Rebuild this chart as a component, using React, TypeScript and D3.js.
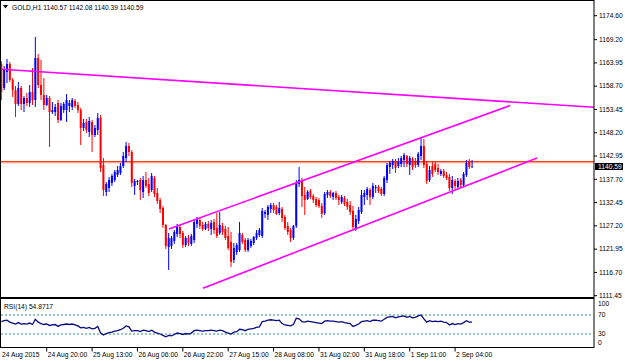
import React from "react";
import * as d3 from "d3";

const W = 625;
const H = 361;

// Hourly OHLC candles, GOLD H1 (24 Aug 2015 04:00 .. 2 Sep 2015)
const OPEN = [
  1163.71, 1158.30, 1161.90, 1163.71, 1160.10, 1157.84, 1154.69, 1158.30, 1154.69, 1156.04,
  1154.91, 1157.39, 1155.59, 1165.06, 1158.97, 1156.72, 1154.46, 1156.04, 1152.88, 1152.88,
  1154.91, 1151.08, 1153.33, 1153.33, 1154.24, 1154.01, 1155.36, 1154.46, 1153.33, 1149.28,
  1150.63, 1148.37, 1150.63, 1147.70, 1148.82, 1151.53, 1140.93, 1134.84, 1135.75, 1136.87,
  1137.55, 1138.68, 1139.13, 1140.71, 1142.51, 1145.22, 1143.86, 1136.20, 1137.10, 1137.55,
  1134.84, 1137.55, 1136.65, 1135.29, 1138.00, 1134.62, 1133.04, 1131.24, 1127.40, 1122.44,
  1122.67, 1123.79, 1125.37, 1126.95, 1125.60, 1122.89, 1124.47, 1123.12, 1124.02, 1127.63,
  1128.53, 1127.40, 1126.50, 1127.63, 1126.50, 1128.08, 1126.73, 1125.60, 1127.18, 1126.50,
  1124.92, 1123.57, 1119.51, 1121.31, 1121.76, 1125.15, 1124.02, 1121.76, 1122.67, 1123.34,
  1124.47, 1125.15, 1124.92, 1129.88, 1129.66, 1131.01, 1131.91, 1131.46, 1130.11, 1131.01,
  1129.21, 1127.18, 1126.27, 1124.47, 1127.18, 1136.65, 1137.32, 1134.17, 1133.27, 1135.07,
  1133.94, 1133.27, 1133.04, 1131.69, 1130.11, 1134.17, 1134.84, 1133.72, 1134.62, 1133.72,
  1132.59, 1133.49, 1132.59, 1131.91, 1130.56, 1126.73, 1128.30, 1130.33, 1133.72, 1134.17,
  1135.29, 1133.72, 1135.75, 1135.97, 1135.52, 1134.39, 1137.55, 1140.48, 1140.93, 1141.83,
  1140.71, 1141.16, 1142.06, 1142.96, 1140.93, 1142.29, 1141.83, 1140.93, 1142.96, 1145.22,
  1141.16, 1137.55, 1140.71, 1141.16, 1140.26, 1138.90, 1139.58, 1138.68, 1138.23, 1135.75,
  1137.32, 1135.97, 1137.55, 1136.42, 1138.68, 1141.83, 1140.57,
];
const HIGH = [
  1164.38, 1163.26, 1164.84, 1164.16, 1160.55, 1158.75, 1159.65, 1158.75, 1156.49, 1157.17,
  1158.97, 1162.81, 1169.80, 1165.96, 1164.61, 1160.55, 1156.72, 1156.49, 1155.14, 1154.69,
  1155.59, 1154.91, 1155.14, 1156.94, 1155.59, 1156.04, 1155.82, 1155.14, 1153.79, 1151.31,
  1151.31, 1151.76, 1151.08, 1149.95, 1152.66, 1152.21, 1142.51, 1137.10, 1138.23, 1138.90,
  1139.80, 1140.71, 1141.38, 1143.86, 1146.12, 1145.89, 1144.31, 1137.78, 1137.55, 1138.00,
  1138.45, 1139.35, 1138.00, 1139.13, 1138.45, 1135.75, 1133.49, 1131.69, 1127.63, 1125.60,
  1124.92, 1126.27, 1127.63, 1127.40, 1126.05, 1124.92, 1125.15, 1125.37, 1128.76, 1129.21,
  1128.98, 1128.08, 1128.08, 1128.30, 1128.53, 1128.76, 1130.11, 1130.33, 1127.85, 1127.18,
  1126.95, 1125.82, 1123.34, 1123.34, 1128.08, 1125.60, 1124.47, 1124.47, 1124.25, 1124.92,
  1126.27, 1126.73, 1131.24, 1130.78, 1131.91, 1132.36, 1132.36, 1131.91, 1132.59, 1131.46,
  1129.66, 1128.08, 1126.73, 1127.40, 1137.55, 1140.48, 1138.00, 1135.97, 1135.29, 1135.52,
  1134.39, 1133.72, 1133.49, 1132.36, 1134.84, 1135.29, 1135.29, 1134.84, 1135.07, 1134.17,
  1134.17, 1133.94, 1133.27, 1132.81, 1131.69, 1129.66, 1131.46, 1135.29, 1135.29, 1135.97,
  1135.75, 1136.87, 1136.42, 1136.42, 1135.97, 1138.45, 1141.38, 1141.83, 1142.29, 1142.29,
  1142.51, 1142.96, 1143.64, 1143.19, 1142.96, 1142.74, 1142.51, 1143.86, 1147.25, 1146.80,
  1141.83, 1140.71, 1141.61, 1141.83, 1141.16, 1140.03, 1140.03, 1139.35, 1138.90, 1138.45,
  1137.78, 1138.00, 1138.00, 1139.35, 1142.06, 1142.29, 1142.08,
];
const LOW = [
  1155.59, 1157.84, 1159.42, 1159.65, 1156.27, 1151.76, 1154.24, 1153.33, 1152.88, 1154.24,
  1154.01, 1154.46, 1154.01, 1158.30, 1155.59, 1153.33, 1154.24, 1144.99, 1152.43, 1151.98,
  1150.40, 1150.85, 1152.66, 1150.63, 1152.88, 1153.33, 1153.79, 1152.66, 1145.44, 1148.60,
  1148.15, 1147.25, 1143.86, 1147.25, 1147.70, 1139.35, 1133.94, 1133.94, 1134.84, 1136.20,
  1137.10, 1138.23, 1138.68, 1140.26, 1141.61, 1142.96, 1135.97, 1134.17, 1136.42, 1133.04,
  1133.49, 1135.75, 1133.94, 1134.84, 1133.72, 1132.14, 1130.11, 1126.73, 1121.99, 1117.25,
  1121.99, 1123.12, 1124.70, 1124.47, 1122.22, 1122.44, 1122.67, 1122.67, 1123.34, 1126.73,
  1126.50, 1126.05, 1126.27, 1126.05, 1125.15, 1125.37, 1124.47, 1125.15, 1125.15, 1124.02,
  1121.76, 1117.93, 1118.83, 1120.64, 1121.31, 1123.12, 1121.31, 1121.31, 1122.22, 1122.89,
  1124.02, 1124.70, 1124.47, 1128.98, 1128.53, 1130.11, 1130.11, 1129.66, 1129.66, 1128.08,
  1126.27, 1125.15, 1123.57, 1124.02, 1126.73, 1135.97, 1131.46, 1129.66, 1133.04, 1133.27,
  1132.36, 1131.46, 1131.24, 1128.98, 1129.66, 1133.49, 1133.49, 1133.04, 1133.04, 1131.91,
  1132.14, 1131.69, 1130.78, 1129.66, 1126.50, 1126.05, 1127.63, 1129.88, 1131.91, 1133.04,
  1131.91, 1133.27, 1134.62, 1134.62, 1133.94, 1133.94, 1136.87, 1138.90, 1140.03, 1139.13,
  1140.26, 1140.48, 1140.48, 1140.48, 1138.68, 1139.80, 1140.26, 1140.48, 1142.06, 1140.26,
  1136.65, 1137.10, 1138.23, 1139.35, 1138.68, 1138.45, 1138.00, 1137.55, 1135.07, 1134.39,
  1135.52, 1135.75, 1135.75, 1135.97, 1138.23, 1140.03, 1140.39,
];
const CLOSE = [
  1157.39, 1162.35, 1163.71, 1160.10, 1157.84, 1154.69, 1158.30, 1154.69, 1156.04, 1154.91,
  1157.39, 1155.59, 1165.06, 1158.97, 1156.72, 1154.46, 1156.04, 1152.88, 1153.33, 1154.01,
  1151.08, 1154.24, 1154.69, 1155.59, 1154.91, 1155.59, 1154.24, 1153.33, 1149.28, 1150.40,
  1148.82, 1150.85, 1147.70, 1149.28, 1151.53, 1140.26, 1135.29, 1136.65, 1137.55, 1138.45,
  1139.35, 1139.80, 1140.71, 1142.96, 1145.22, 1143.86, 1136.87, 1137.32, 1137.32, 1135.29,
  1137.55, 1136.20, 1134.62, 1138.45, 1134.39, 1132.81, 1131.01, 1127.40, 1122.67, 1124.47,
  1124.47, 1125.82, 1127.18, 1125.37, 1122.89, 1124.47, 1123.34, 1124.92, 1128.08, 1128.76,
  1127.18, 1126.50, 1127.63, 1126.73, 1127.85, 1126.27, 1124.92, 1127.40, 1125.82, 1124.47,
  1122.22, 1119.06, 1122.22, 1122.89, 1125.60, 1123.57, 1121.76, 1124.02, 1123.79, 1124.70,
  1125.60, 1126.27, 1130.56, 1130.33, 1131.46, 1131.91, 1130.78, 1129.88, 1131.24, 1128.98,
  1126.73, 1125.82, 1124.47, 1127.18, 1136.87, 1137.55, 1133.94, 1133.04, 1134.84, 1133.72,
  1133.04, 1131.91, 1131.69, 1129.88, 1134.39, 1134.84, 1133.94, 1134.62, 1133.49, 1133.04,
  1133.72, 1132.14, 1131.46, 1130.33, 1126.95, 1128.76, 1130.78, 1134.17, 1134.62, 1135.52,
  1133.72, 1136.20, 1135.97, 1135.07, 1134.39, 1138.00, 1140.93, 1141.38, 1141.83, 1140.26,
  1141.61, 1142.51, 1143.19, 1141.16, 1142.51, 1140.48, 1140.93, 1143.41, 1145.22, 1140.93,
  1137.32, 1139.80, 1138.90, 1139.80, 1139.35, 1139.58, 1138.45, 1138.00, 1135.75, 1137.55,
  1136.20, 1137.32, 1136.42, 1138.90, 1141.38, 1140.48, 1140.59,
];

// RSI(14), one value per bar
const RSI = [
  56, 58, 59, 55, 53, 51, 54, 51, 52, 51,
  53, 50, 61, 55, 52, 50, 51, 48, 49, 50,
  46, 49, 50, 51, 50, 51, 49, 47, 43, 44,
  42, 44, 41, 42, 46, 32, 28, 31, 33, 34,
  36, 37, 39, 42, 47, 45, 36, 37, 37, 35,
  38, 37, 35, 38, 34, 32, 30, 27, 24, 27,
  26, 29, 32, 31, 29, 31, 30, 32, 37, 38,
  37, 36, 37, 37, 38, 37, 36, 38, 37, 34,
  32, 30, 34, 35, 40, 39, 37, 40, 41, 42,
  44, 45, 56, 57, 59, 60, 59, 58, 59, 52,
  49, 48, 47, 50, 63, 62, 56, 55, 57, 56,
  55, 54, 53, 52, 57, 58, 57, 57, 56, 55,
  56, 54, 53, 52, 46, 48, 51, 56, 57, 58,
  56, 59, 59, 58, 57, 61, 65, 66, 67, 64,
  66, 67, 68, 65, 67, 64, 65, 68, 70, 62,
  55, 58, 56, 57, 56, 57, 55, 54, 49, 52,
  50, 52, 51, 54, 58, 55, 54.87,
];

const PRICE_TICKS = [1174.60, 1169.20, 1163.95, 1158.70, 1153.45, 1148.20, 1142.95, 1137.70, 1132.45, 1127.20, 1121.95, 1116.70, 1111.45];
const TIME_LABELS = ["24 Aug 2015", "24 Aug 20:00", "25 Aug 13:00", "26 Aug 06:00", "26 Aug 22:00", "27 Aug 15:00", "28 Aug 08:00", "31 Aug 02:00", "31 Aug 18:00", "1 Sep 11:00", "2 Sep 04:00"];
const TIME_LABEL_BARS = [0, 16, 32, 48, 64, 80, 96, 112, 128, 144, 160];
const RSI_LEVELS = [70, 30];
const RSI_AXIS = [100, 70, 30, 0];
const HLINE_PRICE = 1141.65;
const LAST_PRICE = 1140.59;
// trend lines: [barIndex, price] endpoints
const TREND_TOP = [[0, 1162.51], [209.3, 1153.94]];
const CHANNEL_UPPER = [[59.1, 1126.5], [179.4, 1154.33]];
const CHANNEL_LOWER = [[71.1, 1113.13], [188.9, 1142.51]];
const HEADER = "GOLD,H1  1140.57 1142.08 1140.39 1140.59";
const RSI_TITLE = "RSI(14) 54.8717";

const FONT = "'Liberation Sans', Arial, sans-serif";
const FS = 6.7;

export default function App() {
  const left = 1;
  const right = 594;
  const mainTop = 0.5;
  const mainBottom = 297.5;
  const rsiTop = 298.5;
  const rsiBottom = 347.5;

  const x = d3.scaleLinear().domain([0, 166]).range([1.32, 472.1]);
  const y = d3.scaleLinear().domain([1111.45, 1174.6]).range([295.7, 15.7]);
  const ry = d3.scaleLinear().domain([0, 100]).range([348.25, 300.75]);

  const rsiLine = d3
    .line<number>()
    .x((_, i) => x(i))
    .y((d) => ry(d))(RSI);

  const trend = (pts: number[][]) => (
    <line x1={x(pts[0][0])} y1={y(pts[0][1])} x2={x(pts[1][0])} y2={y(pts[1][1])} stroke="#ff00ff" strokeWidth={1.6} />
  );

  return (
    <svg width={W} height={H} style={{ position: "absolute", left: 0, top: 0, background: "#fff" }} fontFamily={FONT}>
      <defs>
        <clipPath id="mainClip">
          <rect x={left} y={mainTop} width={right - left} height={mainBottom - mainTop} />
        </clipPath>
        <clipPath id="rsiClip">
          <rect x={left} y={rsiTop} width={right - left} height={rsiBottom - rsiTop} />
        </clipPath>
      </defs>
      <rect x={0} y={0} width={W} height={H} fill="#fff" />

      <g clipPath="url(#mainClip)">
        {/* horizontal level */}
        <line x1={left} x2={right} y1={y(HLINE_PRICE)} y2={y(HLINE_PRICE)} stroke="#ff4010" strokeWidth={1.4} />
        <line x1={left} x2={right} y1={y(HLINE_PRICE) + 1.2} y2={y(HLINE_PRICE) + 1.2} stroke="#ffb0a0" strokeWidth={0.8} />
        {/* candles */}
        {OPEN.map((o, i) => {
          const c = CLOSE[i];
          const bull = c >= o;
          const col = bull ? "#0000ff" : "#ff0000";
          const cx = x(i);
          const top = y(Math.max(o, c));
          const bot = y(Math.min(o, c));
          return (
            <g key={i}>
              <line x1={cx} x2={cx} y1={y(HIGH[i])} y2={y(LOW[i])} stroke={col} strokeWidth={1} />
              <rect x={cx - 1} y={top} width={2} height={Math.max(1, bot - top)} fill={col} />
            </g>
          );
        })}
        {trend(TREND_TOP)}
        {trend(CHANNEL_UPPER)}
        {trend(CHANNEL_LOWER)}
      </g>

      {/* frames */}
      <rect x={left - 0.5} y={mainTop} width={right - left + 0.5} height={mainBottom - mainTop} fill="none" stroke="#000" strokeWidth={1} />
      <rect x={left - 0.5} y={rsiTop} width={right - left + 0.5} height={rsiBottom - rsiTop} fill="none" stroke="#000" strokeWidth={1} />

      {/* header */}
      <path d="M3,5 L8,5 L5.5,8.5 Z" fill="#000" />
      <text x={12} y={10} fontSize={FS} fill="#000">{HEADER}</text>

      {/* price axis */}
      {PRICE_TICKS.map((p) => (
        <g key={p}>
          <line x1={right} x2={right + 3} y1={y(p)} y2={y(p)} stroke="#000" />
          <text x={right + 5} y={y(p) + 2.3} fontSize={FS} fill="#000">{p.toFixed(2)}</text>
        </g>
      ))}
      <rect x={right + 1} y={y(LAST_PRICE) - 3.5} width={28} height={7} fill="#000" />
      <text x={right + 4} y={y(LAST_PRICE) + 2.3} fontSize={FS} fill="#fff">{LAST_PRICE.toFixed(2)}</text>

      {/* RSI panel */}
      <g clipPath="url(#rsiClip)">
        {RSI_LEVELS.map((l) => (
          <line key={l} x1={left} x2={right} y1={ry(l)} y2={ry(l)} stroke="#2a8f8f" strokeWidth={1} strokeDasharray="2,2" />
        ))}
        <path d={rsiLine || ""} fill="none" stroke="#0a0a80" strokeWidth={1.3} />
      </g>
      <text x={4} y={308.5} fontSize={FS} fill="#000">{RSI_TITLE}</text>
      {RSI_AXIS.map((v) => (
        <text key={v} x={right + 4} y={Math.min(Math.max(ry(v), 304), 343) + 2.3} fontSize={FS} fill="#000">{v}</text>
      ))}

      {/* time axis */}
      {TIME_LABELS.map((t, i) => {
        const tx = x(TIME_LABEL_BARS[i]);
        return (
          <g key={t}>
            {i > 0 && <line x1={tx} x2={tx} y1={rsiBottom} y2={rsiBottom + 4} stroke="#000" />}
            <text x={i === 0 ? 2 : tx + 1} y={357} fontSize={FS} fill="#000">{t}</text>
          </g>
        );
      })}
    </svg>
  );
}
